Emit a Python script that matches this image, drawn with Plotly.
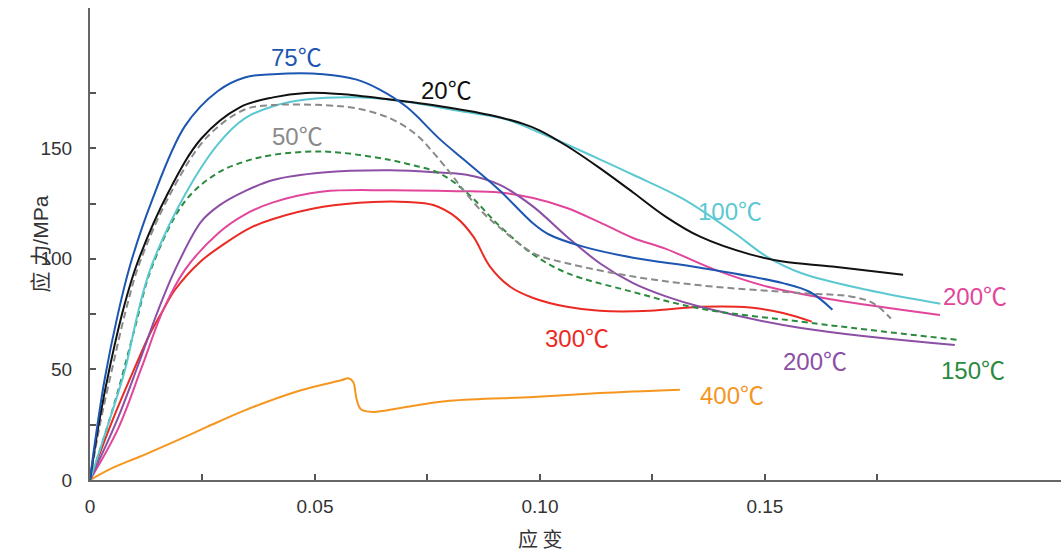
import plotly.graph_objects as go

# ---- data (strain, stress MPa) ----
x_20 = [0, 0.002, 0.0045, 0.0075, 0.0105, 0.0174, 0.0248, 0.0333, 0.0407, 0.048, 0.0556, 0.0667, 0.0778, 0.0889, 0.0963, 0.1, 0.106, 0.1133, 0.1207, 0.128, 0.1356, 0.1467, 0.154, 0.165, 0.1807]
y_20 = [0, 26, 52, 78, 98, 130, 154.5, 168.5, 173, 175, 174.5, 172, 169, 165, 161, 158, 151, 141, 130, 119, 110, 102, 98.8, 96.5, 92.8]

x_50 = [0, 0.0022, 0.005, 0.008, 0.011, 0.018, 0.026, 0.0344, 0.0407, 0.0518, 0.0593, 0.0667, 0.0726, 0.0763, 0.080, 0.083, 0.0874, 0.0911, 0.0985, 0.106, 0.1207, 0.1356, 0.158, 0.169, 0.174, 0.178]
y_50 = [0, 25, 51, 77, 98, 130, 155, 167.5, 169.5, 169.5, 168, 163.5, 156, 148, 139, 131, 120.7, 114, 102.6, 98, 92, 88, 84.5, 83, 80, 73]

x_75 = [0, 0.0011, 0.0033, 0.0062, 0.0089, 0.0137, 0.0211, 0.0285, 0.0344, 0.0407, 0.0518, 0.0593, 0.0644, 0.0704, 0.0778, 0.083, 0.091, 0.0985, 0.102, 0.1096, 0.1207, 0.1356, 0.154, 0.160, 0.165]
y_75 = [0, 17, 46, 75, 97, 126, 160, 176, 182, 183.5, 183.5, 181, 176.5, 168.6, 154, 145, 131, 116, 111, 105.5, 100.5, 96, 89, 85, 77]

x_100 = [0, 0.004, 0.0078, 0.0107, 0.0137, 0.0211, 0.0285, 0.0344, 0.0407, 0.048, 0.0593, 0.0704, 0.0815, 0.0926, 0.1, 0.1133, 0.1207, 0.1319, 0.143, 0.1504, 0.158, 0.1726, 0.189]
y_100 = [0, 25, 50, 76, 97, 129, 152, 163.5, 169, 172, 173, 171, 167, 163, 157, 145, 138, 127, 112, 101, 93.6, 86, 79.7]

x_150 = [0, 0.0026, 0.0062, 0.010, 0.0137, 0.0211, 0.0285, 0.0344, 0.0407, 0.0518, 0.063, 0.0704, 0.0778, 0.0837, 0.0911, 0.0985, 0.106, 0.1207, 0.1356, 0.158, 0.1726, 0.1926]
y_150 = [0, 16, 40, 69, 96, 126, 139, 144, 147, 148.5, 146, 143, 138.5, 130, 114.7, 102, 93.6, 85, 77.5, 71.6, 68, 63.4]

x_200a = [0, 0.0062, 0.0107, 0.0152, 0.0189, 0.0248, 0.029, 0.0333, 0.0407, 0.0518, 0.0667, 0.0778, 0.0837, 0.0911, 0.0985, 0.106, 0.1133, 0.1207, 0.128, 0.1356, 0.158, 0.1922]
y_200a = [0, 28, 52, 77, 95, 117, 124.5, 129.5, 135.6, 139, 140, 139, 138, 133.4, 123.6, 110, 98, 89, 83, 78.3, 68.7, 61]

x_200b = [0, 0.0062, 0.0115, 0.0163, 0.0211, 0.0285, 0.0344, 0.0407, 0.0518, 0.0667, 0.0815, 0.0911, 0.0985, 0.106, 0.1133, 0.1207, 0.128, 0.139, 0.1504, 0.165, 0.1889]
y_200b = [0, 23, 51, 77, 95, 111.6, 120, 125.5, 130.4, 131, 130.6, 130, 127.5, 123, 116.5, 109.4, 104.5, 95, 87.5, 81.6, 74.6]

x_300 = [0, 0.005, 0.010, 0.0133, 0.0163, 0.0189, 0.0244, 0.030, 0.0356, 0.0407, 0.0518, 0.063, 0.0704, 0.0763, 0.0815, 0.0852, 0.0889, 0.0933, 0.0985, 0.106, 0.1133, 0.1244, 0.1356, 0.1467, 0.154, 0.1604]
y_300 = [0, 27, 51, 66, 77, 86, 98.5, 107, 114, 118, 123.5, 125.7, 125.7, 124.3, 118.5, 110, 96.5, 87.5, 82.3, 78.3, 76.5, 76.5, 78.3, 78, 75.5, 71.6]

x_400 = [0, 0.005, 0.011, 0.020, 0.026, 0.0344, 0.0467, 0.0560, 0.0574, 0.0585, 0.0592, 0.0602, 0.063, 0.069, 0.080, 0.0985, 0.1133, 0.1311]
y_400 = [0, 5.5, 10.5, 18.5, 24, 31.5, 40.5, 45.2, 46, 44.3, 37, 32, 30.8, 32.6, 35.8, 37.5, 39.3, 40.8]

x_ticks = [0, 0.025, 0.05, 0.075, 0.10, 0.125, 0.15, 0.175]
x_tick_text = ["0", "", "0.05", "", "0.10", "", "0.15", ""]
y_ticks = [0, 25, 50, 75, 100, 125, 150, 175]
y_tick_text = ["0", "", "50", "", "100", "", "150", ""]

series = [
    ("300℃", x_300, y_300, "#ec2a24", "solid"),
    ("400℃", x_400, y_400, "#f5961f", "solid"),
    ("200℃", x_200b, y_200b, "#e2469b", "solid"),
    ("200℃ ", x_200a, y_200a, "#8c4fa6", "solid"),
    ("150℃", x_150, y_150, "#2a8a3e", "6px,4px"),
    ("100℃", x_100, y_100, "#5bc8d2", "solid"),
    ("50℃", x_50, y_50, "#8a8a8a", "7px,4px"),
    ("20℃", x_20, y_20, "#111111", "solid"),
    ("75℃", x_75, y_75, "#1c56b0", "solid"),
]

labels = [
    ("75", 0.046, 192, "#1c56b0"),
    ("20", 0.0793, 176.8, "#111111"),
    ("50", 0.0462, 156, "#8a8a8a"),
    ("100", 0.1422, 122.5, "#5bc8d2"),
    ("200", 0.1967, 84, "#e2469b"),
    ("300", 0.1082, 65, "#ec2a24"),
    ("200", 0.1611, 54.7, "#8c4fa6"),
    ("150", 0.1962, 50.2, "#2a8a3e"),
    ("400", 0.1427, 39.3, "#f5961f"),
]

fig = go.Figure()
for name, xs, ys, col, dash in series:
    fig.add_trace(go.Scatter(x=xs, y=ys, mode="lines", name=name,
                             line=dict(color=col, width=2, dash=dash, shape="spline", smoothing=1.0)))

font_main = "Liberation Sans, Arial, Noto Sans CJK SC, sans-serif"
for num, lx, ly, col in labels:
    fig.add_annotation(x=lx, y=ly, xref="x", yref="y",
                       text=num + "<span style='font-family:Noto Sans CJK SC'>℃</span>",
                       showarrow=False, xanchor="center", yanchor="middle",
                       font=dict(family=font_main, size=24, color=col))

fig.add_annotation(x=0.10, y=-0.124, xref="x", yref="paper", text="应 变", showarrow=False,
                   xanchor="center", yanchor="middle",
                   font=dict(family="Noto Sans CJK SC, sans-serif", size=20, color="#333333"))
fig.add_annotation(x=-0.052, y=0.5, xref="paper", yref="paper", text="应 力/MPa", showarrow=False,
                   xanchor="center", yanchor="middle",
                   textangle=-90, font=dict(family=font_main, size=21, color="#333333"))

fig.update_layout(
    width=1061, height=553,
    margin=dict(l=90, r=0, t=8, b=73),
    paper_bgcolor="white", plot_bgcolor="white",
    showlegend=False,
    font=dict(family=font_main, size=19, color="#333333"),
)
fig.update_xaxes(range=[0, 0.2158], tickvals=x_ticks, ticktext=x_tick_text,
                 showgrid=False, zeroline=False, showline=True, linecolor="#666666", linewidth=2,
                 ticks="inside", ticklen=6, tickwidth=2, tickcolor="#555555",
                 ticklabelstandoff=8, tickfont=dict(size=19, color="#333333"), automargin=False)
fig.update_yaxes(range=[0, 213.4], tickvals=y_ticks, ticktext=y_tick_text,
                 showgrid=False, zeroline=False, showline=True, linecolor="#666666", linewidth=2,
                 ticks="inside", ticklen=6, tickwidth=2, tickcolor="#555555",
                 ticklabelstandoff=12, tickfont=dict(size=19, color="#333333"), automargin=False)

fig.write_html("out.html", config={"displayModeBar": False},
               post_script="document.body.style.margin='0';document.body.style.overflow='hidden';")
